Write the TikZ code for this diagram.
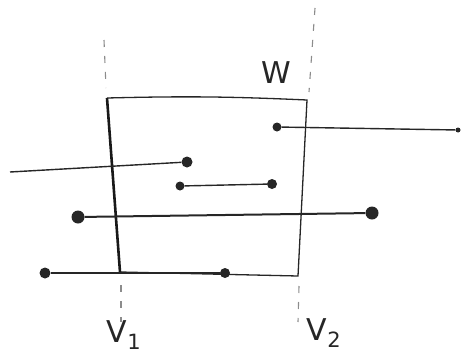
\documentclass[tikz,border=0pt]{standalone}
\usepackage{fontspec}
\setmainfont{DejaVu Sans}
\begin{document}
\begin{tikzpicture}[x=1pt,y=-1pt,
  dotc/.style={circle,fill=black!85,inner sep=0pt,minimum size=#1},
  dotc/.default=8pt,
  wire/.style={line width=1.4pt,black!85},
  boxline/.style={line width=1.3pt,black!85},
  guide/.style={line width=1.1pt,black!45,dash pattern=on 7pt off 9pt},
  lbl/.style={font=\fontsize{30}{32}\selectfont,black!85,inner sep=0pt}]
\useasboundingbox (0,0) rectangle (462,356);
% box W
\coordinate (tl) at (107,98);
\coordinate (tr) at (307,100);
\coordinate (br) at (298,276);
\coordinate (bl) at (120,272);
\draw[boxline] (tl) to[bend left=2] (tr) -- (br) -- (bl);
\draw[line width=2.6pt,black!90] (tl) -- (bl);
% guide lines
\coordinate (v1a) at (104,40);
\coordinate (v1b) at (106,88);
\coordinate (v1c) at (121,285);
\coordinate (v1d) at (121,322);
\draw[guide] (v1a) -- (v1b);
\draw[guide] (v1c) -- (v1d);
\coordinate (v2a) at (315,8);
\coordinate (v2b) at (309,92);
\coordinate (v2c) at (299,286);
\coordinate (v2d) at (298,322);
\draw[guide] (v2a) -- (v2b);
\draw[guide] (v2c) -- (v2d);
\node[lbl] (W) at (276,73) {W};
\node[lbl] (V1) at (124,335) {V\textsubscript{1}};
\node[lbl] (V2) at (324,333) {V\textsubscript{2}};
% dots
\node[dotc=9pt] (a1) at (277,127) {};
\node[dotc=5pt] (a2) at (458,130) {};
\coordinate (b1) at (10,172);
\node[dotc=11pt] (b2) at (187,162) {};
\node[dotc=9pt] (c1) at (180,186) {};
\node[dotc=10pt] (c2) at (272,184) {};
\node[dotc=13pt] (d1) at (78,217) {};
\node[dotc=13pt] (d2) at (372,213) {};
\node[dotc=11pt] (e1) at (45,273) {};
\node[dotc=10pt] (e2) at (225,273) {};
% wires
\draw[wire] (a1) -- (a2);
\draw[wire] (b1) -- (b2);
\draw[wire] (c1) -- (c2);
\draw[wire,line width=2pt] (d1) -- (d2);
\draw[wire,line width=2.2pt] (e1) -- (e2);
\end{tikzpicture}
\end{document}
